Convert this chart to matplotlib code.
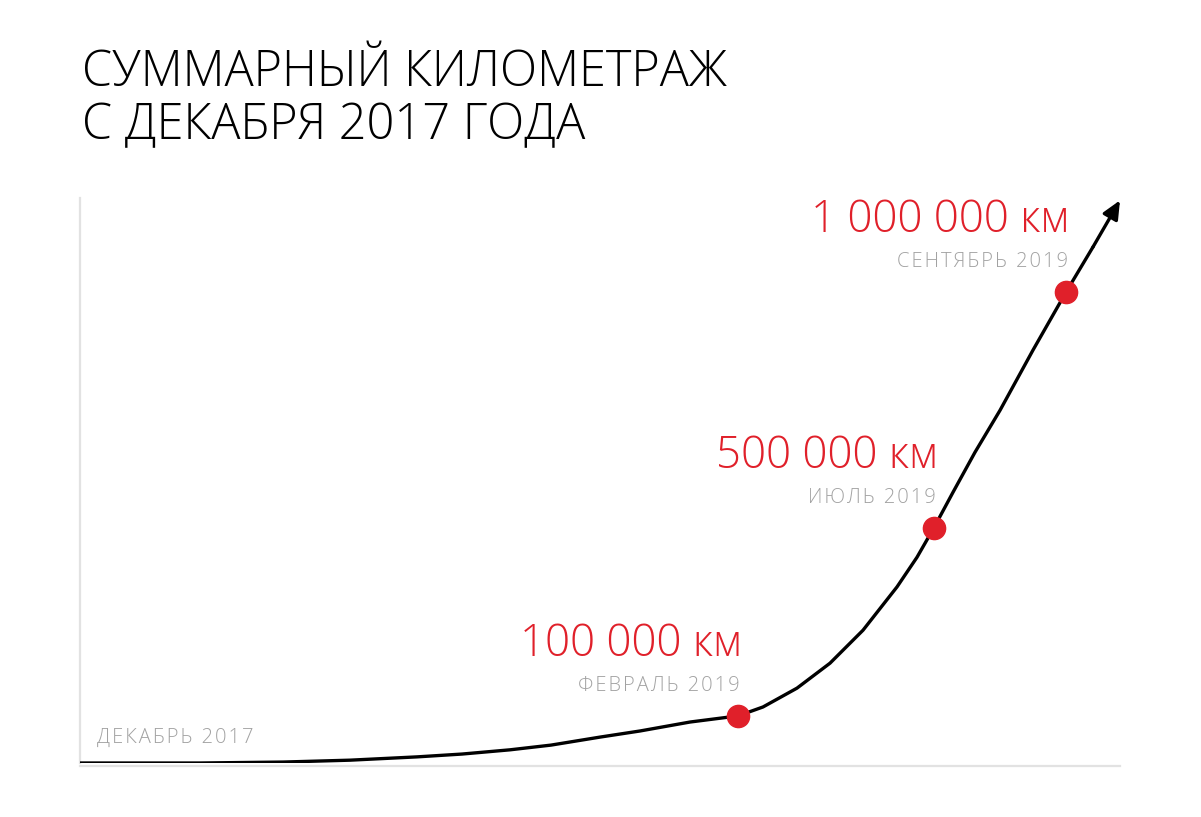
import matplotlib.pyplot as plt

# curve: horizontal position (arbitrary units), thousand km
curve_x = [0, 120, 203, 270, 337, 382, 430, 471, 520, 560, 610, 658,
           683, 717, 750, 783, 817, 837, 854, 873, 895, 920, 953, 986, 1013, 1040]
curve_y = [0, 0, 2, 6, 13, 19, 28, 38, 55, 68, 87, 100,
           119, 159, 212, 282, 374, 437, 500, 575, 660, 749, 877, 1000, 1096, 1195]

# milestones
mile_x = [658, 854, 986]
mile_y = [100, 500, 1000]
mile_km = ['100 000 км', '500 000 км', '1 000 000 км']
mile_date = ['ФЕВРАЛЬ 2019', 'ИЮЛЬ 2019', 'СЕНТЯБРЬ 2019']
start_label = 'ДЕКАБРЬ 2017'

RED = '#e0202a'
GREY = '#a2a2a2'
FONT = ['Open Sans', 'DejaVu Sans']


def spaced(s):
    # small letter spacing for the grey captions
    return '\u200a'.join(s)


def draw_chart():
    fig = plt.figure(figsize=(12.01, 8.17), dpi=100, facecolor='white')
    ax = fig.add_axes([80 / 1201, 54 / 817, 1040 / 1201, 565 / 817])
    ax.set_xlim(0, 1040)
    ax.set_ylim(0, 1200)

    # light axis lines only
    for side in ['top', 'right']:
        ax.spines[side].set_visible(False)
    for side in ['left', 'bottom']:
        ax.spines[side].set_color('#e2e2e2')
        ax.spines[side].set_linewidth(1.6)
    ax.spines['bottom'].set_position(('outward', 2))
    ax.set_xticks([])
    ax.set_yticks([])

    # curve with arrow head at the end
    ax.plot(curve_x[:-1], curve_y[:-1], color='black', lw=2.4,
            solid_capstyle='round', solid_joinstyle='round', zorder=3)
    ax.annotate('', xy=(curve_x[-1], curve_y[-1]), xytext=(curve_x[-2], curve_y[-2]),
                arrowprops=dict(arrowstyle='-|>,head_length=1.1,head_width=0.5',
                                color='black', lw=2.4, shrinkA=0, shrinkB=0),
                zorder=3)

    ax.plot(mile_x, mile_y, 'o', color=RED, markersize=16, zorder=4)

    for x, y, km, date in zip(mile_x, mile_y, mile_km, mile_date):
        ax.annotate(km, xy=(x, y), xytext=(4, 60), textcoords='offset pixels',
                    ha='right', va='baseline', color=RED, fontsize=31.5,
                    family=FONT, fontweight='light')
        ax.annotate(spaced(date), xy=(x, y), xytext=(2, 25), textcoords='offset pixels',
                    ha='right', va='baseline', color=GREY, fontsize=14.5,
                    family=FONT, fontweight='light')

    ax.annotate(spaced(start_label), xy=(0, 0), xytext=(17, 20), textcoords='offset pixels',
                ha='left', va='baseline', color=GREY, fontsize=14.5,
                family=FONT, fontweight='light')

    # title
    fig.text(82 / 1201, 1 - 86 / 817, 'СУММАРНЫЙ КИЛОМЕТРАЖ', ha='left', va='baseline',
             fontsize=35, family=FONT, fontweight='light', color='black')
    fig.text(82 / 1201, 1 - 139 / 817, 'С ДЕКАБРЯ 2017 ГОДА', ha='left', va='baseline',
             fontsize=35, family=FONT, fontweight='light', color='black')

    plt.savefig('out.png', dpi=100, facecolor='white')


draw_chart()
